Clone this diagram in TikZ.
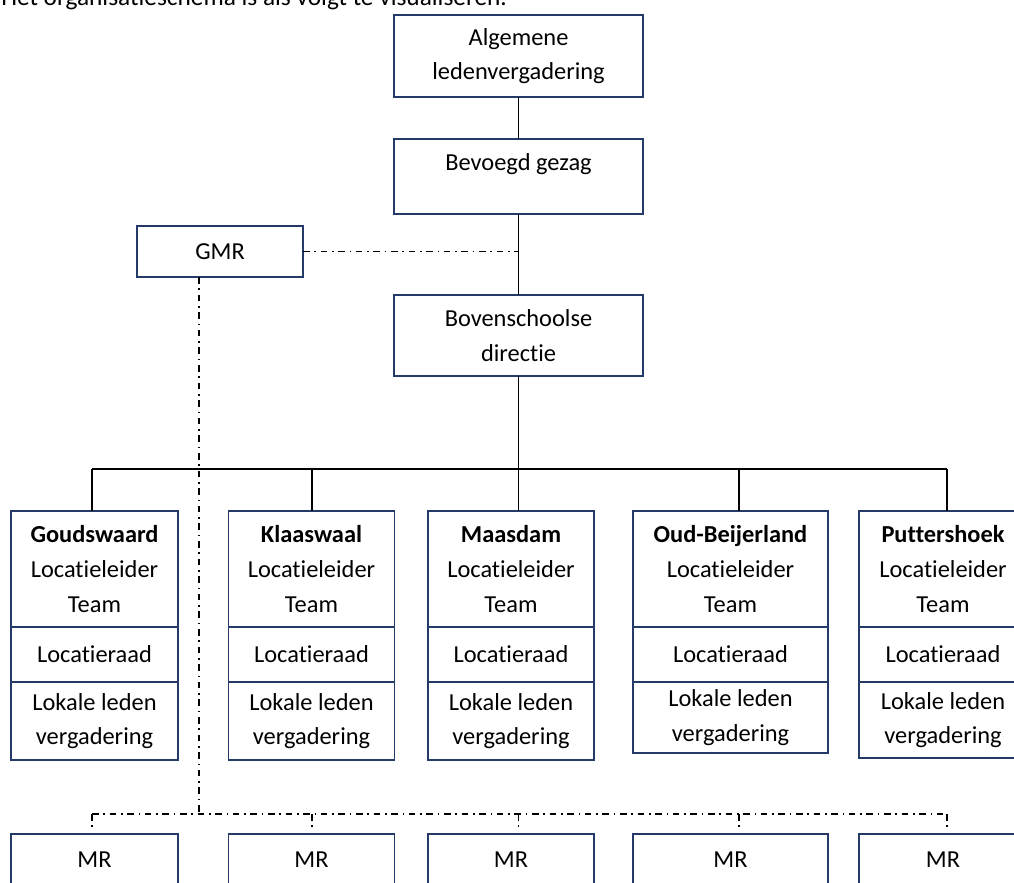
\documentclass[tikz,border=0pt]{standalone}
\usepackage{fontspec}
\setmainfont{Carlito}[Ligatures = NoCommon]
\usetikzlibrary{calc}

\definecolor{kaderblauw}{RGB}{36,58,104}
\newcommand{\tekstmaat}{\fontsize{18.3}{25.9}\selectfont}
\tikzstyle{blok} = [draw = kaderblauw, line width = 1.4pt, text = black, align = center, inner sep = 0pt, outer sep = 0pt, font = \tekstmaat]
\tikzstyle{lijn} = [black, line width = 1.4pt]
\tikzstyle{streeppunt} = [black, line width = 1pt, dash pattern = on 5pt off 3.5pt on 1.2pt off 3.5pt]
\tikzset{maat/.style 2 args = {minimum width = #1*0.75pt, minimum height = #2*0.75pt}}

\begin{document}
\begin{tikzpicture}[x = 0.75pt, y = -0.75pt]
        \useasboundingbox (0, 0) rectangle (1014, 882);
        \node[anchor = base west, inner sep = 0pt, font = \fontsize{19}{26}\selectfont] (inleiding) at (1, 5) {Het organisatieschema is als volgt te visualiseren.};

        % Bestuur
        \node[blok, maat = {249}{82}] (alv) at (518.5, 56) {Algemene\\ledenvergadering};
        \node[blok, maat = {249}{75}, text height = 13pt, text depth = 22pt] (bg) at (518.5, 176.5) {Bevoegd gezag};
        \node[blok, maat = {166}{51}] (gmr) at (220, 251.5) {GMR};
        \node[blok, maat = {249}{81}] (bsd) at (518.5, 335.5) {Bovenschoolse\\directie};

        \draw[lijn] (alv) -- (bg);
        \draw[lijn] (bg) -- (bsd);
        \draw[streeppunt] (gmr.east) -- (gmr.east -| bg.south);

        % Locaties
        \foreach \i/\naam/\plaats/\x/\b/\o in {1/goudswaard/Goudswaard/94.5/167/78,
                                               2/klaaswaal/Klaaswaal/311.5/166/78,
                                               3/maasdam/Maasdam/511/166/78,
                                               4/oud/Oud-Beijerland/730.5/195/71,
                                               5/putt/Puttershoek/943/168/76}
        {
          \node[blok, maat = {\b}{116}] (\naam-top) at (\x, 569) {\textbf{\plaats}\\Locatieleider\\Team};
          \node[blok, maat = {\b}{55}, anchor = north] (\naam-raad) at (\naam-top.south) {Locatieraad};
          \node[blok, maat = {\b}{\o}, anchor = north] (\naam-leden) at (\naam-raad.south) {Lokale leden\\vergadering};
          \node[blok, maat = {\b}{51}] (mr-\i) at (\x, 859.5) {MR};
        }

        % Takken
        \foreach \i/\x in {1/92, 2/312, 3/518.5, 4/739, 5/947}
        {
          \coordinate (tak-\i) at (\x, 469);
          \coordinate (mrtak-\i) at (\x, 814);
        }
        \draw[lijn] (bsd.south) -- (tak-3);
        \draw[lijn] (tak-1) -- (tak-5);
        \draw[lijn] (tak-1) -- (goudswaard-top.north -| tak-1);
        \draw[lijn] (tak-2) -- (klaaswaal-top.north -| tak-2);
        \draw[lijn] (tak-3) -- (maasdam-top.north -| tak-3);
        \draw[lijn] (tak-4) -- (oud-top.north -| tak-4);
        \draw[lijn] (tak-5) -- (putt-top.north -| tak-5);

        % Medezeggenschap
        \coordinate (gmrtak) at (199, 814);
        \draw[streeppunt] (gmr.south -| gmrtak) -- (gmrtak);
        \draw[streeppunt] (mrtak-1) -- (mrtak-5);
        \foreach \i in {1, ..., 5}
        {
          \draw[streeppunt, shorten > = 3.5pt] (mrtak-\i) -- (mr-\i.north -| mrtak-\i);
        }
      \end{tikzpicture}
\end{document}
